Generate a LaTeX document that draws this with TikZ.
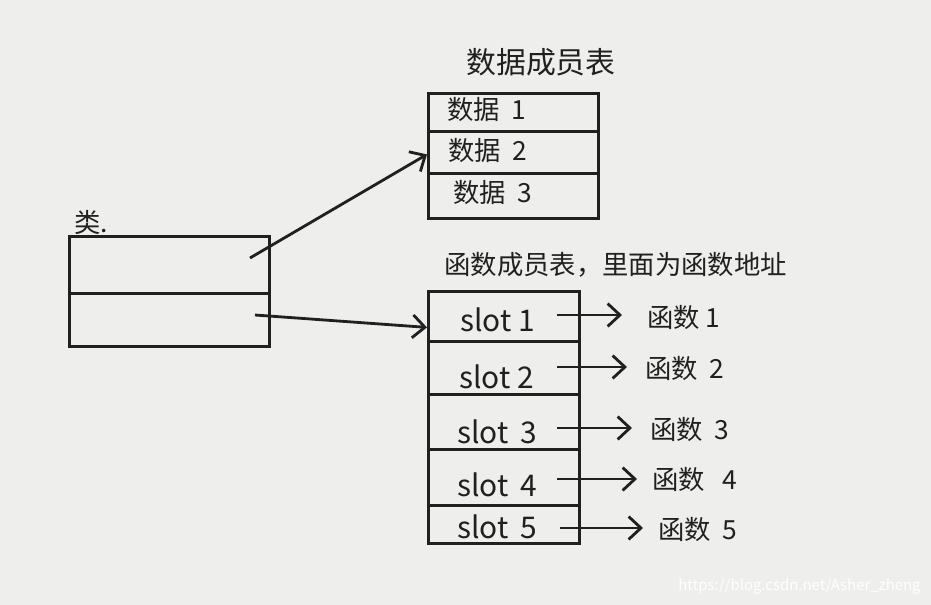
\documentclass[tikz,border=0pt]{standalone}
\usepackage{fontspec}
\setmainfont{Noto Sans CJK SC}
\usetikzlibrary{arrows.meta}
\definecolor{paper}{RGB}{238,238,236}
\definecolor{ink}{RGB}{32,32,32}
\begin{document}
\begin{tikzpicture}[x=0.02cm,y=-0.02cm,
  cell/.style={draw=ink,line width=1.6pt,anchor=north west,inner sep=0pt},
  cjk/.style={text=ink,font=\fontsize{15}{15}\selectfont,inner sep=0pt},
  ttl/.style={text=ink,font=\fontsize{17}{17}\selectfont,inner sep=0pt},
  slottxt/.style={text=ink,font=\fontsize{17}{17}\selectfont,inner sep=0pt,anchor=west},
  arr/.style={draw=ink,line width=1.6pt,-{Straight Barb[length=7pt,width=13pt,line width=1.6pt]}}]
\fill[paper] (0,0) rectangle (931,605);
\useasboundingbox (0,0) rectangle (931,605);

% data member table
\node[ttl] (dt) at (541,62) {数据成员表};
\node[cell,minimum width=3.40cm,minimum height=0.76cm] (d1) at (427,92) {};
\node[cell,minimum width=3.40cm,minimum height=0.84cm] (d2) at (427,130) {};
\node[cell,minimum width=3.40cm,minimum height=0.90cm] (d3) at (427,172) {};
\node[cjk,anchor=west] (dl1) at (447,110) {数据\ \ 1};
\node[cjk,anchor=west] (dl2) at (448,151) {数据\ \ 2};
\node[cjk,anchor=west] (dl3) at (453,193) {数据\ \ 3};

% class box
\node[cjk,anchor=west] (cl) at (74,222) {类.};
\node[cell,minimum width=4.00cm,minimum height=1.14cm] (c1) at (68,235) {};
\node[cell,minimum width=4.00cm,minimum height=1.06cm] (c2) at (68,292) {};
\coordinate (ca) at (250,258);
\coordinate (cb) at (255,315);

% function member table
\node[cjk,anchor=west] (ft) at (444,265) {函数成员表，里面为函数地址};
\node[cell,minimum width=3.02cm,minimum height=1.00cm] (f1) at (427,290) {};
\node[cell,minimum width=3.02cm,minimum height=1.06cm] (f2) at (427,340) {};
\node[cell,minimum width=3.02cm,minimum height=1.10cm] (f3) at (427,393) {};
\node[cell,minimum width=3.02cm,minimum height=1.12cm] (f4) at (427,448) {};
\node[cell,minimum width=3.02cm,minimum height=0.76cm] (f5) at (427,504) {};
\node[slottxt] (s1) at (460,320) {slot 1};
\node[slottxt] (s2) at (459,377) {slot 2};
\node[slottxt] (s3) at (457,432) {slot\ \,3};
\node[slottxt] (s4) at (457,485) {slot\ \,4};
\node[slottxt] (s5) at (457,527) {slot\ \,5};

% function labels
\node[cjk,anchor=west] (g1) at (647,318) {函数\ 1};
\node[cjk,anchor=west] (g2) at (645,369) {函数\ \ 2};
\node[cjk,anchor=west] (g3) at (650,430) {函数\ \ 3};
\node[cjk,anchor=west] (g4) at (652,480) {函数\ \ \ 4};
\node[cjk,anchor=west] (g5) at (658,530) {函数\ \ 5};

% connectors from class
\draw[arr] (ca) -- ([yshift=-0.04cm]d2.west);
\draw[arr] (cb) -- ([yshift=-0.22cm]f1.west);

% slot arrows
\coordinate (t1) at (557,315);
\coordinate (t2) at (557,367);
\coordinate (t3) at (557,428);
\coordinate (t4) at (557,479);
\coordinate (t5) at (560,528);
\draw[arr,shorten >=0.5cm] (t1) -- (t1 -| g1.west);
\draw[arr,shorten >=0.36cm] (t2) -- (t2 -| g2.west);
\draw[arr,shorten >=0.36cm] (t3) -- (t3 -| g3.west);
\draw[arr,shorten >=0.30cm] (t4) -- (t4 -| g4.west);
\draw[arr,shorten >=0.30cm] (t5) -- (t5 -| g5.west);

% watermark
\node[text=white,font=\fontsize{8.5}{8.5}\selectfont,inner sep=0pt,anchor=east] (wm) at (921,586) {https://blog.csdn.net/Asher\_zheng};
\end{tikzpicture}
\end{document}
